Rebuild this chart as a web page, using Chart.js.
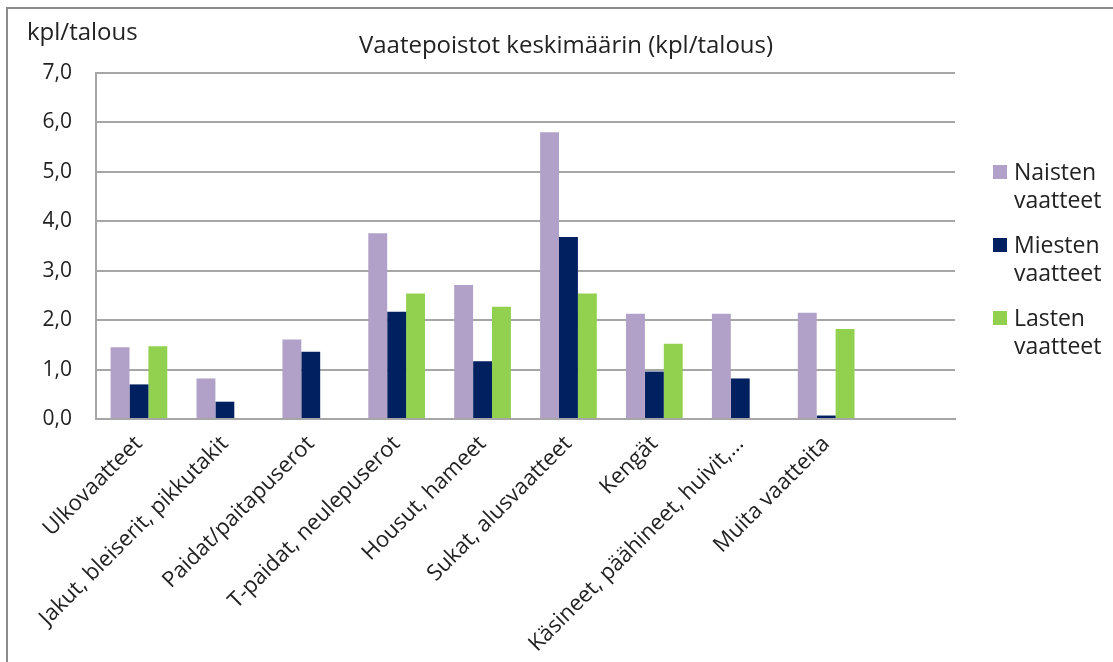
<!DOCTYPE html>
<html lang="fi">
<head>
<meta charset="utf-8">
<title>Vaatepoistot keskimäärin</title>
<script src="https://cdn.jsdelivr.net/npm/chart.js@4.4.1/dist/chart.umd.min.js"></script>
<style>
    html, body {
        margin: 0;
        padding: 0;
        background: #ffffff;
        font-family: "Open Sans", sans-serif;
    }
    .chart-wrap {
        position: relative;
        width: 1113px;
        height: 662px;
        overflow: hidden;
    }
    .chart-frame {
        position: absolute;
        left: 6px;
        top: 7px;
        width: 1200px;
        height: 700px;
        border-top: 2px solid #8c8c8c;
        border-left: 2px solid #8c8c8c;
        pointer-events: none;
    }
    .chart-title {
        position: absolute;
        left: 0;
        width: 1132px;
        top: 29px;
        text-align: center;
        font-size: 24px;
        line-height: 30px;
        color: #222;
    }
    .y-title {
        position: absolute;
        left: 27px;
        top: 16px;
        font-size: 24px;
        line-height: 30px;
        color: #222;
    }
    .legend {
        position: absolute;
        left: 993px;
        top: 157px;
    }
    .legend-item {
        display: flex;
        align-items: flex-start;
        margin-bottom: 17px;
    }
    .legend-box {
        width: 14px;
        height: 14px;
        margin-top: 8px;
        margin-right: 7px;
        flex: none;
    }
    .legend-text {
        font-size: 23px;
        line-height: 28px;
        color: #222;
    }
</style>
</head>
<body>
<div class="chart-wrap">
    <canvas id="poistotChart" width="1113" height="662"></canvas>
    <div class="chart-frame"></div>
    <div class="chart-title" id="chartTitle"></div>
    <div class="y-title">kpl/talous</div>
    <div class="legend" id="legend"></div>
</div>
<script>
const categories = [
    "Ulkovaatteet",
    "Jakut, bleiserit, pikkutakit",
    "Paidat/paitapuserot",
    "T-paidat, neulepuserot",
    "Housut, hameet",
    "Sukat, alusvaatteet",
    "Kengät",
    "Käsineet, päähineet, huivit,…",
    "Muita vaatteita",
    "",
];

const seriesNames = [["Naisten", "vaatteet"], ["Miesten", "vaatteet"], ["Lasten", "vaatteet"]];
const seriesColors = ["#b1a0c7", "#002060", "#92d050"];

const naistenValues = [1.45, 0.82, 1.61, 3.76, 2.71, 5.80, 2.13, 2.13, 2.15, null];
const miestenValues = [0.70, 0.35, 1.36, 2.17, 1.17, 3.68, 0.96, 0.82, 0.07, null];
const lastenValues = [1.47, null, null, 2.54, 2.27, 2.54, 1.52, null, 1.82, null];

const yTicks = [0, 1, 2, 3, 4, 5, 6, 7];

const chartTitle = "Vaatepoistot keskimäärin (kpl/talous)";
const fontFamily = '"Open Sans", sans-serif';

function buildLegend() {
    document.getElementById("chartTitle").textContent = chartTitle;

    const legend = document.getElementById("legend");
    seriesNames.forEach(function (name, i) {
        const item = document.createElement("div");
        item.className = "legend-item";
        const box = document.createElement("div");
        box.className = "legend-box";
        box.style.background = seriesColors[i];
        const text = document.createElement("div");
        text.className = "legend-text";
        text.innerHTML = name.join("<br>");
        item.appendChild(box);
        item.appendChild(text);
        legend.appendChild(item);
    });
}

function initializeChart() {
    const ctx = document.getElementById("poistotChart").getContext("2d");
    const values = [naistenValues, miestenValues, lastenValues];

    new Chart(ctx, {
        type: "bar",
        data: {
            labels: categories,
            datasets: values.map(function (data, i) {
                return {
                    label: seriesNames[i].join(" "),
                    data: data,
                    backgroundColor: seriesColors[i],
                    borderWidth: 0,
                    categoryPercentage: 0.66,
                    barPercentage: 1.0,
                };
            }),
        },
        options: {
            responsive: false,
            animation: false,
            layout: {
                padding: { left: 0, right: 158, top: 73, bottom: 0 },
            },
            plugins: {
                legend: { display: false },
                tooltip: { enabled: false },
            },
            scales: {
                x: {
                    grid: { display: false, drawTicks: false },
                    border: { color: "#a6a6a6", width: 2 },
                    ticks: {
                        color: "#222",
                        font: { family: fontFamily, size: 22 },
                        maxRotation: 45,
                        minRotation: 45,
                        autoSkip: false,
                        padding: 12,
                    },
                    afterFit: function (scale) {
                        scale.height = 243;
                    },
                },
                y: {
                    min: 0,
                    max: 7,
                    afterBuildTicks: function (scale) {
                        scale.ticks = yTicks.map(function (v) {
                            return { value: v };
                        });
                    },
                    grid: {
                        color: "#a6a6a6",
                        lineWidth: 2,
                        drawTicks: false,
                    },
                    border: { color: "#a6a6a6", width: 2 },
                    ticks: {
                        color: "#222",
                        font: { family: fontFamily, size: 21 },
                        padding: 24,
                        callback: function (value) {
                            return value.toFixed(1).replace(".", ",");
                        },
                    },
                    afterFit: function (scale) {
                        scale.width = 96;
                    },
                },
            },
        },
    });
}

buildLegend();
initializeChart();
</script>
</body>
</html>
